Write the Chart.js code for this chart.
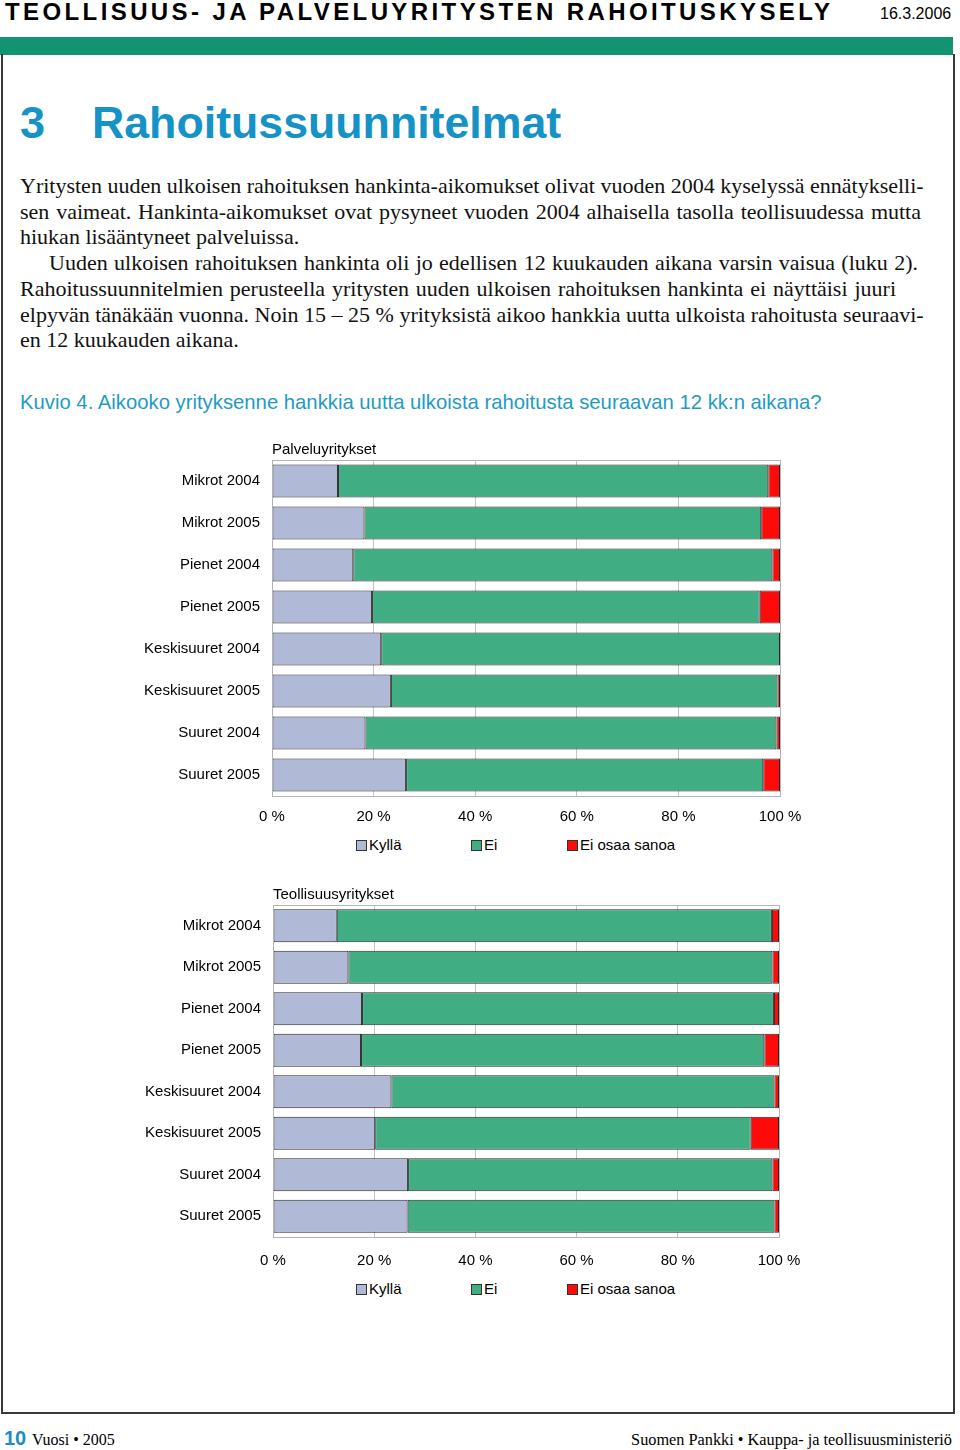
<!DOCTYPE html>
<html>
<head>
<meta charset="utf-8">
<script src="https://cdn.jsdelivr.net/npm/chart.js@4.4.1/dist/chart.umd.min.js"></script>
<style>
  html, body { margin:0; padding:0; background:#fff; }
  body { width:960px; height:1450px; position:relative; overflow:hidden; font-family: Arial, "Liberation Sans", sans-serif; color:#000; }
  .abs { position:absolute; white-space:nowrap; }
  #hdr { left:5px; top:-1px; font-size:24px; line-height:26px; font-weight:bold; letter-spacing:3.4px; }
  #date { left:880px; top:5px; font-size:16px; line-height:18px; }
  #band { left:0; top:37px; width:953px; height:18px; background:#11946f; }
  #frame { left:1px; top:54px; width:950px; height:1358px; border:2px solid #3a3a3a; border-top:none; }
  #h3num { left:20px; top:96px; font-size:45px; line-height:54px; font-weight:bold; color:#1592c6; }
  #h3 { left:92px; top:96px; font-size:44.7px; line-height:54px; font-weight:bold; color:#1592c6; }
  #para { left:20px; top:173px; font-family:"Liberation Serif","Times New Roman",serif; font-size:22px; line-height:25.7px; color:#111; }
  #para div { white-space:nowrap; }
  #para .j { text-align:justify; text-align-last:justify; }
  #kuvio { left:20px; top:390px; font-size:20.3px; line-height:24px; color:#1f9bc2; }
  .legend { position:absolute; font-size:15px; line-height:18px; }
  .legend span.item { position:absolute; white-space:nowrap; }
  .legend span.box { position:absolute; width:9px; height:9px; border:1px solid #333; top:4px; }
  #foot10 { left:4px; top:1426px; font-size:20px; line-height:24px; font-weight:bold; color:#1a8fc4; }
  #footL { left:32px; top:1430px; font-family:"Liberation Serif","Times New Roman",serif; font-size:16px; line-height:19px; }
  #footR { right:8px; top:1430px; font-family:"Liberation Serif","Times New Roman",serif; font-size:16.3px; line-height:19px; }
  canvas { position:absolute; }
</style>
</head>
<body>
<div class="abs" id="hdr">TEOLLISUUS- JA PALVELUYRITYSTEN RAHOITUSKYSELY</div>
<div class="abs" id="date">16.3.2006</div>
<div class="abs" id="band"></div>
<div class="abs" id="frame"></div>
<div class="abs" id="h3num">3</div>
<div class="abs" id="h3">Rahoitussuunnitelmat</div>
<div class="abs" id="para">
  <div class="j" style="width:902px">Yritysten uuden ulkoisen rahoituksen hankinta-aikomukset olivat vuoden 2004 kyselyssä ennätykselli-</div>
  <div class="j" style="width:901px">sen vaimeat. Hankinta-aikomukset ovat pysyneet vuoden 2004 alhaisella tasolla teollisuudessa mutta</div>
  <div>hiukan lisääntyneet palveluissa.</div>
  <div class="j" style="width:869px; margin-left:29px">Uuden ulkoisen rahoituksen hankinta oli jo edellisen 12 kuukauden aikana varsin vaisua (luku 2).</div>
  <div class="j" style="width:876px">Rahoitussuunnitelmien perusteella yritysten uuden ulkoisen rahoituksen hankinta ei näyttäisi juuri</div>
  <div class="j" style="width:902px">elpyvän tänäkään vuonna. Noin 15 – 25 % yrityksistä aikoo hankkia uutta ulkoista rahoitusta seuraavi-</div>
  <div>en 12 kuukauden aikana.</div>
</div>
<div class="abs" id="kuvio">Kuvio 4. Aikooko yrityksenne hankkia uutta ulkoista rahoitusta seuraavan 12 kk:n aikana?</div>

<canvas id="c1" width="690" height="398" style="left:120px; top:438px;"></canvas>
<div class="legend" id="leg1" style="left:0; top:836px; width:960px; height:18px;"></div>
<canvas id="c2" width="690" height="394" style="left:121px; top:883px;"></canvas>
<div class="legend" id="leg2" style="left:0; top:1280px; width:960px; height:18px;"></div>

<div class="abs" id="foot10">10</div>
<div class="abs" id="footL">Vuosi • 2005</div>
<div class="abs" id="footR">Suomen Pankki • Kauppa- ja teollisuusministeriö</div>

<script>
// ---- Data ----
const categories = ["Mikrot 2004","Mikrot 2005","Pienet 2004","Pienet 2005","Keskisuuret 2004","Keskisuuret 2005","Suuret 2004","Suuret 2005"];
const seriesNames = ["Kyllä","Ei","Ei osaa sanoa"];
const xTicks = [0, 20, 40, 60, 80, 100];

const palvelu_kylla = [13.0, 18.2, 16.0, 19.7, 21.5, 23.4, 18.4, 26.4];
const palvelu_ei    = [84.7, 78.1, 82.5, 76.3, 78.5, 76.1, 80.9, 70.3];
const palvelu_eos   = [2.3, 3.7, 1.5, 4.0, 0.0, 0.5, 0.7, 3.3];

const teoll_kylla = [12.6, 14.9, 17.6, 17.4, 23.4, 20.2, 26.7, 26.6];
const teoll_ei    = [86.0, 83.8, 81.4, 79.7, 75.7, 74.2, 72.0, 72.5];
const teoll_eos   = [1.4, 1.3, 1.0, 2.9, 0.9, 5.6, 1.3, 0.9];

// ---- Styles ----
const colors = ["#b0b9d6", "#41ad83", "#ff0a0a"];
const FONT = "Arial, 'Liberation Sans', sans-serif";

const frameBorder = {
  id: 'frameBorder',
  afterDatasetsDraw(chart) {
    const a = chart.chartArea, ctx = chart.ctx;
    ctx.save();
    ctx.strokeStyle = '#b4b4b4';
    ctx.lineWidth = 1;
    ctx.strokeRect(Math.round(a.left) + 0.5, Math.round(a.top) + 0.5, Math.round(a.right - a.left), Math.round(a.bottom - a.top));
    ctx.restore();
  }
};

function makeChart(id, title, kylla, ei, eos, yWidth, rightPad, tickPad) {
  const vals = [kylla, ei, eos];
  return new Chart(document.getElementById(id), {
    type: 'bar',
    data: {
      labels: categories,
      datasets: seriesNames.map((n, i) => ({
        label: n,
        data: vals[i],
        backgroundColor: colors[i],
        borderColor: '#262626',
        borderWidth: 1,
        borderSkipped: false,
        barPercentage: 0.79,
        categoryPercentage: 1.0
      }))
    },
    options: {
      indexAxis: 'y',
      responsive: false,
      animation: false,
      devicePixelRatio: 1,
      layout: { padding: { left: 0, right: rightPad, top: 0, bottom: 0 } },
      plugins: {
        legend: { display: false },
        tooltip: { enabled: false },
        title: {
          display: true, text: title, align: 'start', fullSize: false,
          color: '#000', font: { family: FONT, size: 15, weight: 'normal', lineHeight: 1.2 },
          padding: { top: 3, bottom: 1 }
        }
      },
      scales: {
        x: {
          stacked: true, min: 0, max: 100,
          afterBuildTicks: (s) => { s.ticks = xTicks.map(v => ({ value: v })); },
          afterFit: (s) => { s.height = 40; s.paddingLeft = 0; s.paddingRight = 0; },
          ticks: { color: '#000', font: { family: FONT, size: 15 }, padding: tickPad, callback: (v) => v + ' %', maxRotation: 0 },
          grid: { color: '#c4c4c4', lineWidth: 1, drawTicks: false },
          border: { display: true, color: '#a8a8a8' }
        },
        y: {
          stacked: true,
          afterFit: (s) => { s.width = yWidth; },
          ticks: { color: '#000', font: { family: FONT, size: 15 }, padding: 12 },
          grid: { display: false, drawTicks: false },
          border: { display: true, color: '#a8a8a8' }
        }
      }
    },
    plugins: [frameBorder]
  });
}

makeChart('c1', 'Palveluyritykset', palvelu_kylla, palvelu_ei, palvelu_eos, 152, 30, 12);
makeChart('c2', 'Teollisuusyritykset', teoll_kylla, teoll_ei, teoll_eos, 152, 32, 15);

// ---- HTML legends built from the series ----
const legendX = [356, 471, 567];
function buildLegend(id) {
  const el = document.getElementById(id);
  seriesNames.forEach((n, i) => {
    const b = document.createElement('span');
    b.className = 'box';
    b.style.left = legendX[i] + 'px';
    b.style.background = colors[i];
    el.appendChild(b);
    const t = document.createElement('span');
    t.className = 'item';
    t.style.left = (legendX[i] + 13) + 'px';
    t.textContent = n;
    el.appendChild(t);
  });
}
buildLegend('leg1');
buildLegend('leg2');
</script>
</body>
</html>
